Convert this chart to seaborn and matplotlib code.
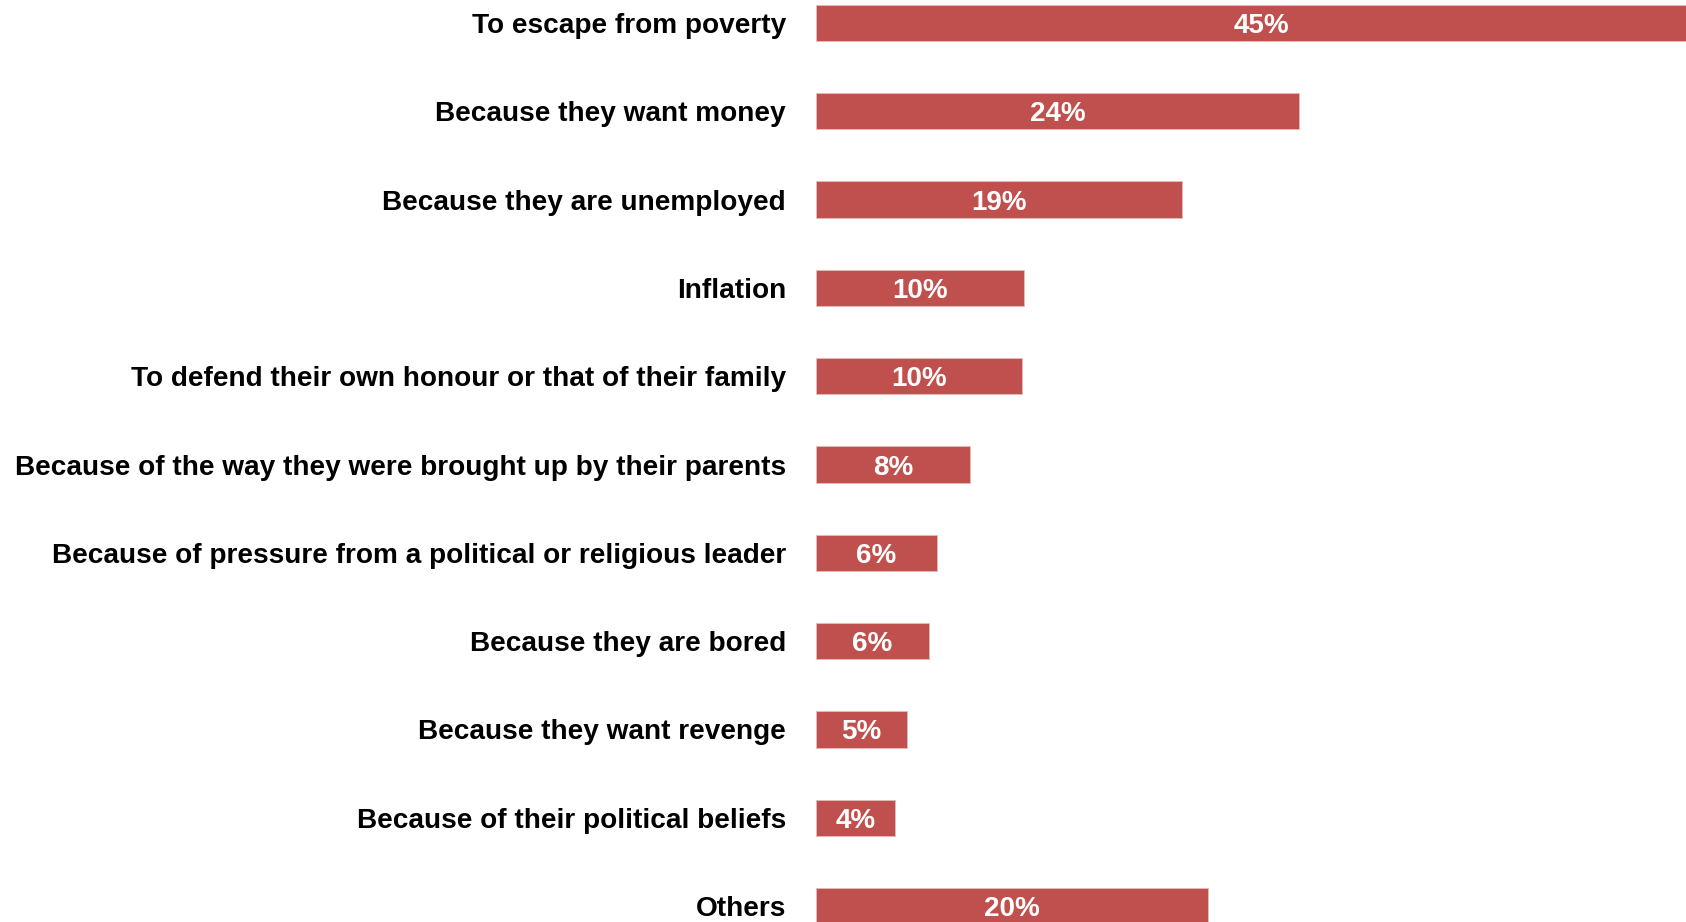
import pandas as pd
import matplotlib.pyplot as plt
import seaborn as sns

# Datos del gráfico
categories = [
    "To escape from poverty",
    "Because they want money",
    "Because they are unemployed",
    "Inflation",
    "To defend their own honour or that of their family",
    "Because of the way they were brought up by their parents",
    "Because of pressure from a political or religious leader",
    "Because they are bored",
    "Because they want revenge",
    "Because of their political beliefs",
    "Others",
]
values = [45.0, 24.4, 18.5, 10.5, 10.4, 7.8, 6.1, 5.7, 4.6, 4.0, 19.8]
value_labels = ["45%", "24%", "19%", "10%", "10%", "8%", "6%", "6%", "5%", "4%", "20%"]

df = pd.DataFrame({"Reason": categories, "Share": values})

sns.set_theme(style="white")
plt.rcParams["font.family"] = ["Liberation Sans", "DejaVu Sans"]

fig = plt.figure(figsize=(16.86, 9.22), dpi=100)
ax = fig.add_axes([816 / 1686, 0, 1 - 816 / 1686, 1])

sns.barplot(data=df, x="Share", y="Reason", color="#C0504D", saturation=1,
            width=0.41, edgecolor="#E6B9B8", linewidth=0.6, ax=ax)

ax.set_xlim(0, 870 / 19.8)
ax.set_ylim(10 + 16 / 88.3, -23 / 88.3)

# Etiquetas de valor dentro de las barras
for i, (v, lab) in enumerate(zip(values, value_labels)):
    ax.text(v / 2, i, lab, ha="center", va="center_baseline", color="white",
            fontsize=20, fontweight="bold", clip_on=False)

ax.set_xlabel("")
ax.set_ylabel("")
ax.set_xticks([])
ax.tick_params(axis="y", length=0, pad=21.6)
for lbl in ax.get_yticklabels():
    lbl.set_fontsize(20.2)
    lbl.set_fontweight("bold")
    lbl.set_color("black")
sns.despine(ax=ax, left=True, bottom=True)

fig.savefig("out.png", dpi=100)
